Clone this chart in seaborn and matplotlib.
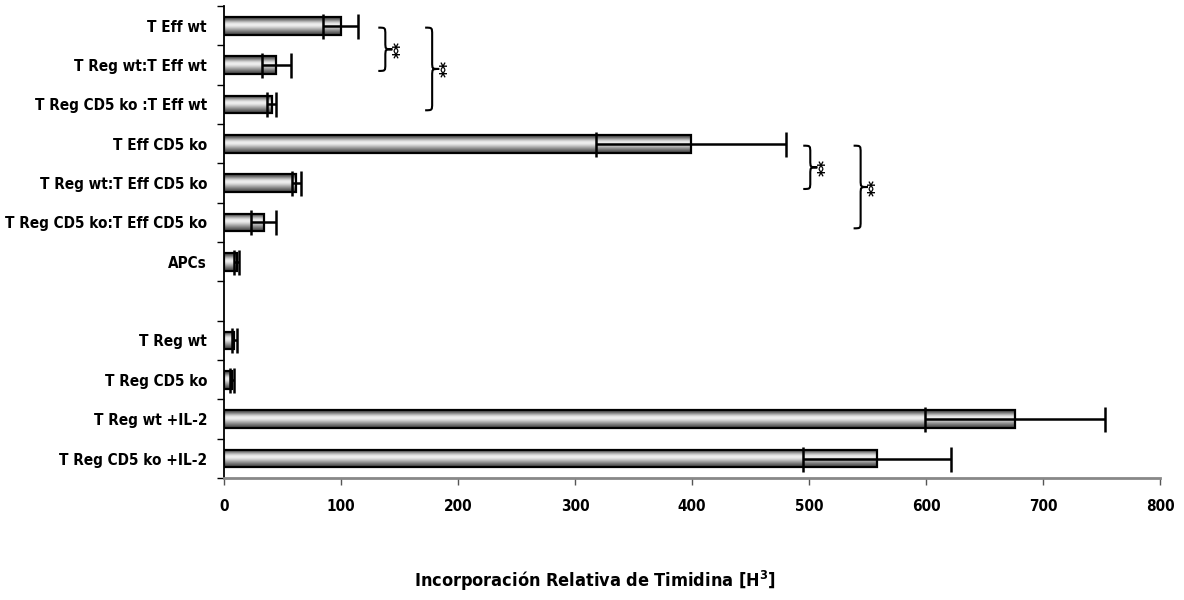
import matplotlib
matplotlib.use("Agg")
import matplotlib.pyplot as plt
from matplotlib.path import Path
from matplotlib.patches import PathPatch
import seaborn as sns
import numpy as np
import pandas as pd

# values
labels = ["T Eff wt", "T Reg wt:T Eff wt", "T Reg CD5 ko :T Eff wt", "T Eff CD5 ko",
          "T Reg wt:T Eff CD5 ko", "T Reg CD5 ko:T Eff CD5 ko", "APCs",
          "T Reg wt", "T Reg CD5 ko", "T Reg wt +IL-2", "T Reg CD5 ko +IL-2"]
means = [100, 45, 41, 399, 62, 34, 11, 9, 7, 676, 558]
errors = [15, 12, 4, 81, 4, 11, 2, 2, 2, 77, 63]
order = labels[:7] + [" "] + labels[7:]
xticks = [0, 100, 200, 300, 400, 500, 600, 700, 800]

# significance brackets: (first row, last row, label)
brackets = [("T Eff wt", "T Reg wt:T Eff wt", "**"),
            ("T Eff wt", "T Reg CD5 ko :T Eff wt", "**"),
            ("T Eff CD5 ko", "T Reg wt:T Eff CD5 ko", "**"),
            ("T Eff CD5 ko", "T Reg CD5 ko:T Eff CD5 ko", "**")]

df = pd.DataFrame({"cond": labels, "val": means})

sns.set_style("ticks")
plt.rcParams["font.family"] = ["DejaVu Sans"]
plt.rcParams["font.weight"] = "bold"
plt.rcParams["font.stretch"] = "condensed"
plt.rcParams["text.color"] = "black"
plt.rcParams["axes.labelcolor"] = "black"

fig = plt.figure(figsize=(11.84, 6), dpi=100)
ax = fig.add_axes([0.189, 0.203, 0.791, 0.787])

sns.barplot(data=df, x="val", y="cond", order=order, orient="h",
            color="gray", width=0.45, ax=ax)

# cylinder-like gray gradient inside every bar
shade = np.array([0.30, 0.45, 0.70, 0.90, 0.95, 0.85, 0.70, 0.55, 0.40, 0.30])[:, None]
for p in list(ax.patches):
    x0, y0 = p.get_x(), p.get_y()
    w, h = p.get_width(), p.get_height()
    im = ax.imshow(shade, cmap="gray", vmin=0, vmax=1, aspect="auto",
                   extent=[x0, x0 + w, y0 + h, y0], interpolation="bicubic", zorder=1)
    im.set_clip_path(p)
    p.set_facecolor("none")
    p.set_edgecolor("black")
    p.set_linewidth(1.6)
    p.set_zorder(2)

ypos = [order.index(l) for l in labels]
ax.errorbar(means, ypos, xerr=errors, fmt="none", ecolor="black",
            elinewidth=1.8, capsize=9, capthick=1.8, zorder=3)

ax.set_xlim(0, 800)
ax.set_ylim(11.5, -0.5)


def brace(y0, y1, x, w):
    m = (y0 + y1) / 2
    c = 0.18
    xm = x + w * 0.5
    verts = [(x, y0), (xm, y0), (xm, y0), (xm, y0 + c),
             (xm, m - c),
             (xm, m), (xm, m), (x + w, m),
             (xm, m), (xm, m), (xm, m + c),
             (xm, y1 - c),
             (xm, y1), (xm, y1), (x, y1)]
    codes = [Path.MOVETO] + [Path.CURVE4] * 3 + [Path.LINETO] + [Path.CURVE4] * 6 + \
            [Path.LINETO] + [Path.CURVE4] * 3
    ax.add_patch(PathPatch(Path(verts, codes), fill=False, lw=1.5, color="black"))
    return m


brace_x = [132, 172, 495, 538]
for (a, b, star), bx in zip(brackets, brace_x):
    ia, ib = order.index(a), order.index(b)
    m = brace(ia + 0.05, ib + 0.15, bx, 12)
    ax.text(bx + 19, m, star, rotation=90, ha="center", va="center",
            fontsize=13, fontweight="bold", color="black")

ax.set_xticks(xticks)
ax.set_xticklabels([str(t) for t in xticks], fontsize=11, fontweight="bold")
ax.set_yticks(range(len(order)))
ax.set_yticklabels(order, fontsize=11, fontweight="bold")
ax.set_yticks(np.arange(-0.5, len(order), 1), minor=True)
ax.tick_params(axis="y", which="major", length=0, pad=12, labelcolor="black")
ax.tick_params(axis="y", which="minor", length=5, width=1, color="black", left=True,
               direction="out")
ax.tick_params(axis="x", which="major", direction="out", length=5, width=1,
               color="#555555", bottom=True, labelbottom=True, pad=10,
               labelcolor="black")
ax.tick_params(axis="x", which="minor", bottom=False)

ax.set_xlabel("Incorporación Relativa de Timidina [H$^3$]", fontsize=13,
              fontweight="bold")
ax.xaxis.set_label_coords(0.396, -0.192)
ax.set_ylabel("")

for s in ["top", "right"]:
    ax.spines[s].set_visible(False)
ax.spines["left"].set_color("black")
ax.spines["left"].set_linewidth(1.3)
ax.spines["bottom"].set_color("#888888")
ax.spines["bottom"].set_linewidth(2)

fig.savefig("out.png", dpi=100)
